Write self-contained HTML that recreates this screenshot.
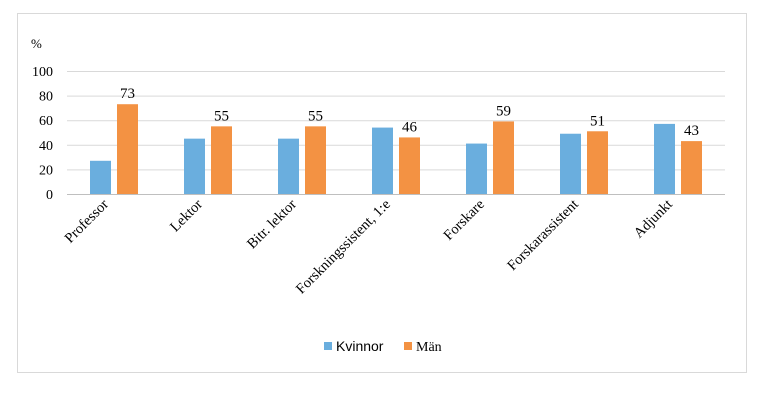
<!DOCTYPE html>
<html><head><meta charset="utf-8"><style>
body{margin:0;background:#fff;}
svg{display:block;font-family:"Liberation Serif",serif;}
</style></head><body>
<svg id="chart" width="763" height="404">
<rect x="17.5" y="13.5" width="729" height="359" fill="#fff" stroke="#d9d9d9"/>
<text x="31" y="48" font-size="13" fill="#000">%</text>
<g id="grid"></g><g id="bars"></g><g id="labels"></g>
<g>
<rect x="324" y="342" width="8" height="8" fill="#6aaede"/>
<text x="336" y="351" font-size="14" font-family="Liberation Sans, sans-serif">Kvinnor</text>
<rect x="404" y="342" width="8" height="8" fill="#f39243"/>
<text x="416" y="351" font-size="14">Män</text>
</g>
</svg>
<script>
const categories=["Professor","Lektor","Bitr. lektor","Forskningssistent, 1:e","Forskare","Forskarassistent","Adjunkt"];
const kvinnor=[27,45,45,54,41,49,57];
const man=[73,55,55,46,59,51,43];
const ticks=[0,20,40,60,80,100];
const NS="http://www.w3.org/2000/svg";
const x0=67,x1=725,y0=194,y1=71;
const band=(x1-x0)/categories.length;
const yS=v=>y0-(v/100)*(y0-y1);
const xC=i=>x0+band*(i+0.5);
function mk(t,a,p){const e=document.createElementNS(NS,t);for(const k in a)e.setAttribute(k,a[k]);p.appendChild(e);return e;}
const grid=document.getElementById('grid'),bars=document.getElementById('bars'),labels=document.getElementById('labels');
ticks.forEach(t=>{
 const l=mk('line',{x1:x0,x2:x1,y1:yS(t)+0.5,y2:yS(t)+0.5,stroke:t===0?'#bfbfbf':'#d9d9d9'},grid);
 
 
 const tx=mk('text',{x:53,y:yS(t)+5,'font-size':14,'text-anchor':'end'},grid);
 tx.textContent=t;
 
 
});
const bw=21;
categories.forEach((c,i)=>{
 const cx=xC(i);
 const b1=mk('rect',{x:cx-bw-3,y:yS(kvinnor[i]),width:bw,height:y0-yS(kvinnor[i]),fill:'#6aaede'},bars);
 
 
 const b2=mk('rect',{x:cx+3,y:yS(man[i]),width:bw,height:y0-yS(man[i]),fill:'#f39243'},bars);
 
 
 const v=mk('text',{x:cx+3+bw/2,y:yS(man[i])-6,'font-size':15,'text-anchor':'middle'},labels);
 v.textContent=man[i];
 
 
 const lx=cx-5,ly=205;
 const cl=mk('text',{x:lx,y:ly,'font-size':14.5,'text-anchor':'end',transform:`rotate(-45 ${lx} ${ly})`},labels);
 cl.textContent=c;
 
 
});
</script>
</body></html>
